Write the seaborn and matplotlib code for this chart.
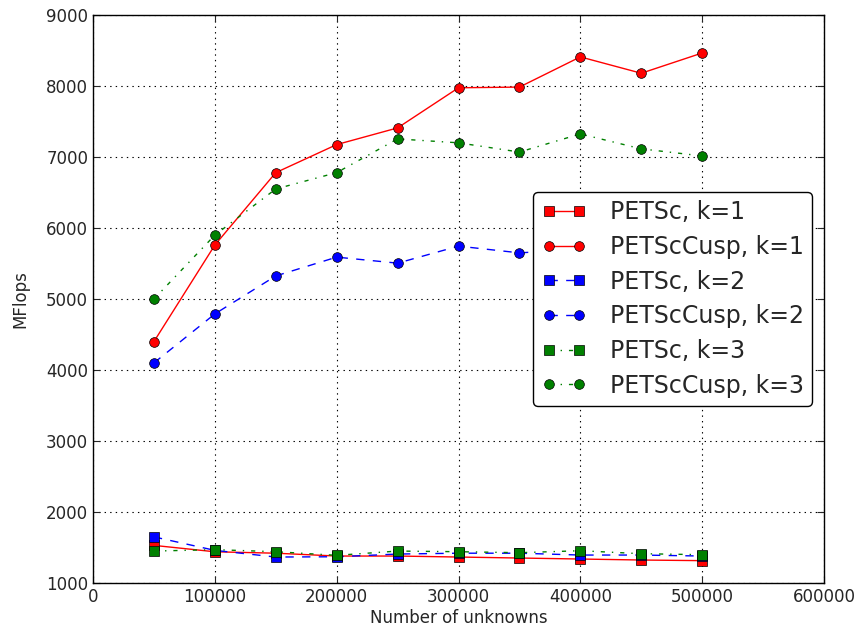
import numpy as np
import pandas as pd
import matplotlib
matplotlib.use("Agg")
import matplotlib.pyplot as plt
import seaborn as sns

unknowns = [50000, 100000, 150000, 200000, 250000, 300000, 350000, 400000, 450000, 500000]

petsc_k1 = [1530, 1440, 1420, 1380, 1380, 1366, 1352, 1338, 1324, 1315]
cusp_k1 = [4400, 5760, 6780, 7175, 7410, 7975, 7985, 8410, 8180, 8465]
petsc_k2 = [1650, 1460, 1366, 1370, 1408, 1420, 1420, 1394, 1394, 1380]
cusp_k2 = [4100, 4790, 5325, 5590, 5505, 5745, 5650, 5700, 5680, 5720]
petsc_k3 = [1450, 1470, 1441, 1390, 1450, 1441, 1427, 1455, 1413, 1399]
cusp_k3 = [5000, 5900, 6550, 6780, 7255, 7200, 7070, 7325, 7115, 7015]

series = [
    ("PETSc, k=1", petsc_k1, "red", "s", "-"),
    ("PETScCusp, k=1", cusp_k1, "red", "o", "-"),
    ("PETSc, k=2", petsc_k2, "blue", "s", "--"),
    ("PETScCusp, k=2", cusp_k2, "blue", "o", "--"),
    ("PETSc, k=3", petsc_k3, "green", "s", "-."),
    ("PETScCusp, k=3", cusp_k3, "green", "o", "-."),
]

sns.set_style("white")
plt.rcParams["font.family"] = ["DejaVu Sans"]
plt.rcParams["lines.scale_dashes"] = False
plt.rcParams["lines.dashed_pattern"] = [6, 6]
plt.rcParams["lines.dashdot_pattern"] = [3, 5, 1, 5]
plt.rcParams["lines.dotted_pattern"] = [1, 3]

fig = plt.figure(figsize=(8.66, 6.36), dpi=100)
ax = fig.add_axes([0.1074, 0.0833, 0.8441, 0.8931])

for name, vals, color, marker, ls in series:
    df = pd.DataFrame({"x": unknowns, "y": vals})
    sns.lineplot(data=df, x="x", y="y", ax=ax, color=color, marker=marker,
                 linestyle=ls, linewidth=1.0, markersize=7,
                 markeredgecolor="black", markeredgewidth=0.5, label=name)

ax.set_xlim(0, 600000)
ax.set_ylim(1000, 9000)
ax.set_xticks(np.arange(0, 600001, 100000))
ax.set_yticks(np.arange(1000, 9001, 1000))
ax.set_xlabel("Number of unknowns", fontsize=12, labelpad=2)
ax.set_ylabel("MFlops", fontsize=12, labelpad=12)
ax.tick_params(direction="in", length=5, width=0.8, labelsize=12, top=True, right=True,
               bottom=True, left=True)
ax.grid(True, linestyle=":", color="black", linewidth=0.8)
for sp in ax.spines.values():
    sp.set_color("black")
    sp.set_linewidth(1.0)

leg = ax.legend(loc="center right", fontsize=17, frameon=True, fancybox=True,
                framealpha=1.0, edgecolor="black", numpoints=2, handlelength=1.9,
                handletextpad=1.0, borderpad=0.35, labelspacing=0.45,
                borderaxespad=0.5)
leg.get_frame().set_linewidth(1.0)

fig.savefig("out.png", dpi=100)
